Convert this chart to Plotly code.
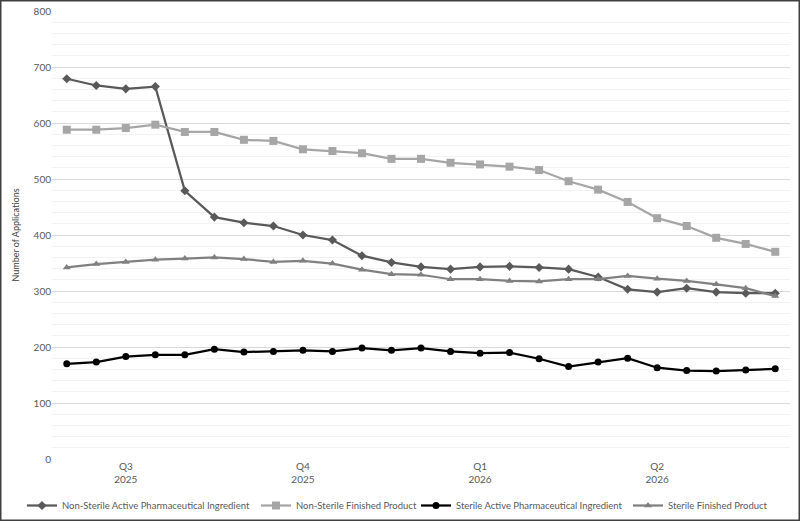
import plotly.graph_objects as go

periods = [f"P{i+1}" for i in range(25)]
quarter_tick_periods = ["P3", "P9", "P15", "P21"]
quarter_tick_labels = ["Q3<br>2025", "Q4<br>2025", "Q1<br>2026", "Q2<br>2026"]

ns_api = [679, 667, 661, 665, 479, 432, 422, 416, 400, 391, 363, 351, 343, 339, 343, 344, 342, 339, 325, 303, 298, 305, 298, 296, 296]
ns_fp = [588, 588, 591, 597, 584, 584, 570, 568, 553, 550, 546, 536, 536, 529, 526, 522, 516, 496, 481, 459, 430, 416, 395, 384, 370]
s_api = [170, 173, 183, 186, 186, 196, 191, 192, 194, 192, 198, 194, 198, 192, 189, 190, 179, 165, 173, 180, 163, 158, 157, 159, 161]
s_fp = [342, 348, 352, 356, 358, 360, 357, 352, 354, 349, 338, 330, 329, 321, 321, 318, 317, 321, 321, 327, 322, 318, 312, 305, 291]

series = [
    ("Non-Sterile Active Pharmaceutical Ingredient", ns_api, "#595959", "diamond", 7),
    ("Non-Sterile Finished Product", ns_fp, "#A6A6A6", "square", 8),
    ("Sterile Active Pharmaceutical Ingredient", s_api, "#000000", "circle", 7),
    ("Sterile Finished Product", s_fp, "#808080", "triangle-up", 7),
]

W, H = 800, 521
L, R, T, B = 52, 10, 11, 62
pw, ph = W - L - R, H - T - B

legend_ids = ["legend", "legend2", "legend3", "legend4"]
legend_left_px = [22, 256, 416, 628]

fig = go.Figure()
for (name, vals, color, sym, sz), lid in zip(series, legend_ids):
    fig.add_trace(go.Scatter(
        x=periods, y=vals, name=name, mode="lines+markers",
        line=dict(color=color, width=2.25),
        marker=dict(symbol=sym, size=sz, color=color),
        legend=lid,
    ))

legend_y = -(491 - (H - B)) / ph
layout_legends = {}
for lid, px in zip(legend_ids, legend_left_px):
    layout_legends[lid] = dict(orientation="h", x=(px - L) / pw, xanchor="left",
                               y=legend_y, yanchor="top", bgcolor="rgba(0,0,0,0)",
                               font=dict(size=9.5, color="#595959"))

fig.update_layout(
    width=W, height=H,
    margin=dict(l=L, r=R, t=T, b=B, autoexpand=False),
    paper_bgcolor="white", plot_bgcolor="white",
    font=dict(family="Lato, Open Sans, sans-serif", size=10, color="#595959"),
    showlegend=True,
    xaxis=dict(type="category", tickmode="array", tickvals=quarter_tick_periods,
               ticktext=quarter_tick_labels, showgrid=False, zeroline=False,
               showline=False, ticks="", tickfont=dict(size=10, color="#595959"),
               range=[-0.5, 24.5]),
    yaxis=dict(range=[0, 800], dtick=100, showgrid=True, gridcolor="#D9D9D9",
               gridwidth=1, zeroline=False, showline=False, ticks="",
               tickfont=dict(size=10, color="#595959"),
               title=dict(text="Number of Applications", font=dict(size=9, color="#404040"), standoff=12),
               minor=dict(dtick=20, showgrid=True, gridcolor="#F2F2F2", gridwidth=1)),
    **layout_legends,
)

fig.add_shape(type="rect", xref="paper", yref="paper",
              x0=(0.75 - L) / pw, x1=(W - 0.75 - L) / pw,
              y0=-(B - 0.75) / ph, y1=1 + (T - 0.75) / ph,
              line=dict(color="#404040", width=1.5), fillcolor="rgba(0,0,0,0)", layer="above")

fig.write_html("out.html")
